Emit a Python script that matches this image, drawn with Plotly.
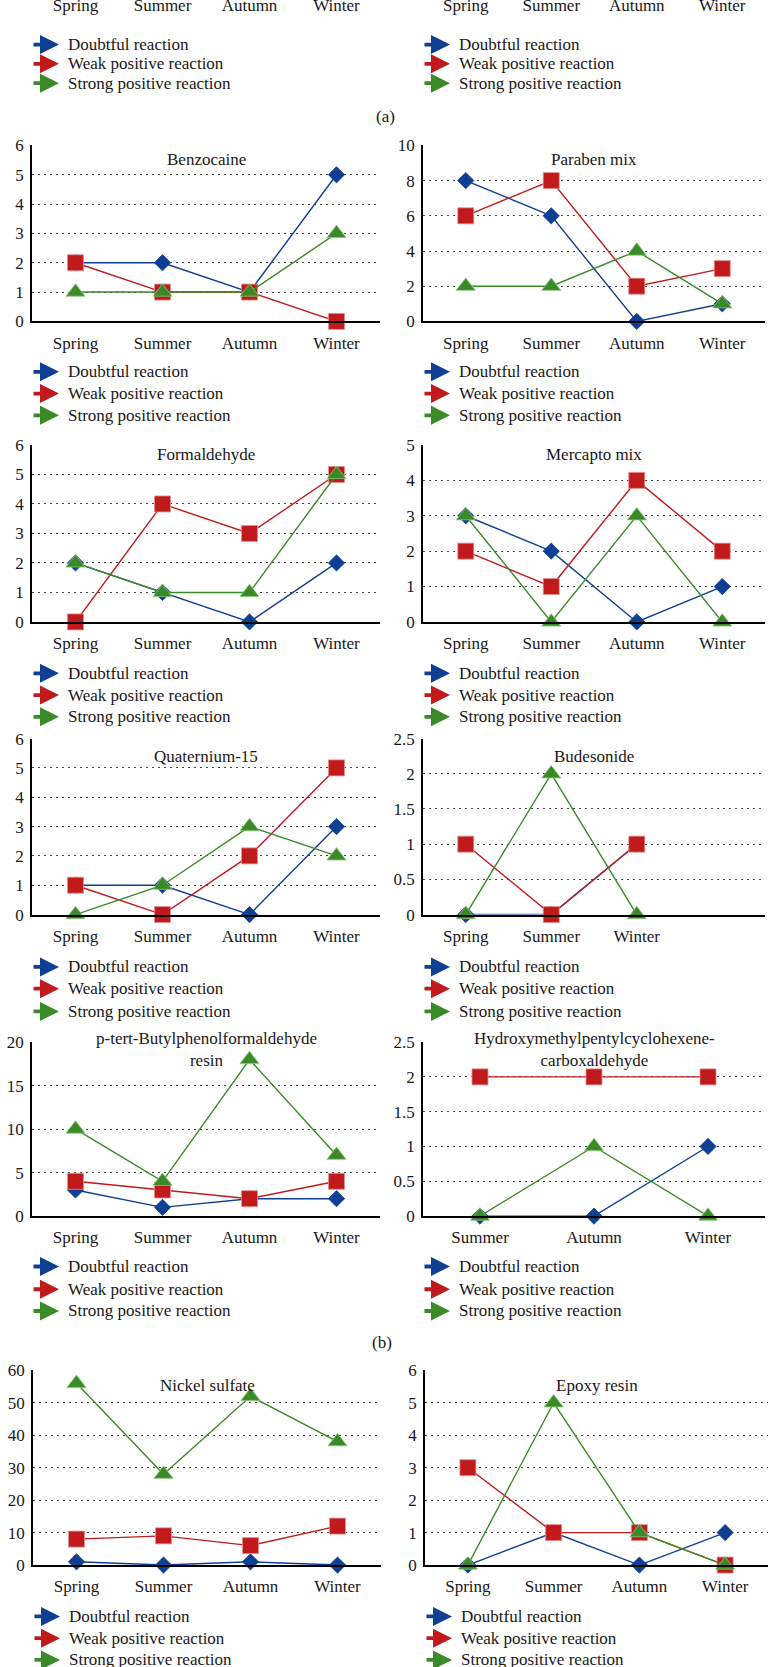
import plotly.graph_objects as go

W, H = 769, 1667

# ---------------- data ----------------
SEASONS = ["Spring", "Summer", "Autumn", "Winter"]
SEASONS_BUDESONIDE = ["Spring", "Summer", "Winter"]
SEASONS_HMPCC = ["Summer", "Autumn", "Winter"]
SERIES_NAMES = ["Doubtful reaction", "Weak positive reaction", "Strong positive reaction"]

TITLES = ["Benzocaine", "Paraben mix", "Formaldehyde", "Mercapto mix",
          "Quaternium-15", "Budesonide",
          "p-tert-Butylphenolformaldehyde<br>resin",
          "Hydroxymethylpentylcyclohexene-<br>carboxaldehyde",
          "Nickel sulfate", "Epoxy resin"]

benzocaine_doubtful = [2, 2, 1, 5]
benzocaine_weak = [2, 1, 1, 0]
benzocaine_strong = [1, 1, 1, 3]

paraben_doubtful = [8, 6, 0, 1]
paraben_weak = [6, 8, 2, 3]
paraben_strong = [2, 2, 4, 1]

formaldehyde_doubtful = [2, 1, 0, 2]
formaldehyde_weak = [0, 4, 3, 5]
formaldehyde_strong = [2, 1, 1, 5]

mercapto_doubtful = [3, 2, 0, 1]
mercapto_weak = [2, 1, 4, 2]
mercapto_strong = [3, 0, 3, 0]

quaternium_doubtful = [1, 1, 0, 3]
quaternium_weak = [1, 0, 2, 5]
quaternium_strong = [0, 1, 3, 2]

budesonide_doubtful = [0, 0, 1]
budesonide_weak = [1, 0, 1]
budesonide_strong = [0, 2, 0]

ptbp_doubtful = [3, 1, 2, 2]
ptbp_weak = [4, 3, 2, 4]
ptbp_strong = [10, 4, 18, 7]

hmpcc_doubtful = [0, 0, 1]
hmpcc_weak = [2, 2, 2]
hmpcc_strong = [0, 1, 0]

nickel_doubtful = [1, 0, 1, 0]
nickel_weak = [8, 9, 6, 12]
nickel_strong = [56, 28, 52, 38]

epoxy_doubtful = [0, 1, 0, 1]
epoxy_weak = [3, 1, 1, 0]
epoxy_strong = [0, 5, 1, 0]

Y_MAX = [6, 10, 6, 5, 6, 2.5, 20, 2.5, 60, 6]
Y_DTICK = [1, 2, 1, 1, 1, 0.5, 5, 0.5, 10, 1]

PANELS = [
    (SEASONS, benzocaine_doubtful, benzocaine_weak, benzocaine_strong),
    (SEASONS, paraben_doubtful, paraben_weak, paraben_strong),
    (SEASONS, formaldehyde_doubtful, formaldehyde_weak, formaldehyde_strong),
    (SEASONS, mercapto_doubtful, mercapto_weak, mercapto_strong),
    (SEASONS, quaternium_doubtful, quaternium_weak, quaternium_strong),
    (SEASONS_BUDESONIDE, budesonide_doubtful, budesonide_weak, budesonide_strong),
    (SEASONS, ptbp_doubtful, ptbp_weak, ptbp_strong),
    (SEASONS_HMPCC, hmpcc_doubtful, hmpcc_weak, hmpcc_strong),
    (SEASONS, nickel_doubtful, nickel_weak, nickel_strong),
    (SEASONS, epoxy_doubtful, epoxy_weak, epoxy_strong),
]
N_SLOTS = [4, 4, 4, 4, 4, 4, 4, 3, 4, 4]

# ---------------- styling / geometry (pixels) ----------------
FONT = "Liberation Serif, Times New Roman, DejaVu Serif, serif"
TXT = "#1a1718"
COLORS = ["#0f3f92", "#c01a1d", "#3a8b27"]
EDGE = ["#0f3f92", "#e58f8f", "#8cc57a"]
SYMBOLS = ["diamond", "square", "triangle-up"]
SIZES = [12.5, 16, 16.5]

ROW_TOP = [138, 441, 738, 1045, 1377]
ROW_BOT = [316, 620, 916, 1221, 1574]
COL_X = [[(32, 380), (423, 765)]] * 4 + [[(33, 381), (425, 768)]]
TITLE_Y = [152, 451, 756, 1052, 1392]
LEGEND_Y = [[367, 389, 411], [672, 694, 716], [969, 991, 1014],
            [1272, 1295, 1317], [1626, 1648, 1670]]
TOP_LEGEND_Y = [36, 55.5, 75]


def px(xp):
    return xp / W


def py(yp):
    return 1 - yp / H


fig = go.Figure()
annotations = []


def add_legend(x_left, ys):
    for k, yy in enumerate(ys):
        annotations.append(dict(
            x=px(x_left + 27), y=py(yy), xref="paper", yref="paper",
            ax=-27, ay=0, text="", showarrow=True, arrowhead=2,
            arrowsize=1, arrowwidth=3.8, arrowcolor=COLORS[k]))
        annotations.append(dict(
            x=px(x_left + 34), y=py(yy), xref="paper", yref="paper",
            xanchor="left", yanchor="middle", showarrow=False,
            text=SERIES_NAMES[k], font=dict(family=FONT, size=17, color=TXT)))


for i, (cats, d, w, s) in enumerate(PANELS):
    row, col = divmod(i, 2)
    n = i + 1
    xs = "" if n == 1 else str(n)
    x0, x1 = COL_X[row][col]
    for k, vals in enumerate([d, w, s]):
        fig.add_trace(go.Scatter(
            x=cats, y=vals, mode="lines+markers", name=SERIES_NAMES[k],
            xaxis="x" + xs, yaxis="y" + xs, showlegend=False, cliponaxis=False,
            line=dict(color=COLORS[k], width=1.4),
            marker=dict(symbol=SYMBOLS[k], size=SIZES[k], color=COLORS[k],
                        line=dict(color=EDGE[k], width=0.8))))
    fig.layout["xaxis" + xs] = dict(
        domain=[px(x0), px(x1)], anchor="y" + xs, type="category",
        categoryorder="array", categoryarray=cats,
        range=[-0.5, N_SLOTS[i] - 0.5], showline=True, linecolor="#000",
        linewidth=1.5, ticks="", showgrid=False, zeroline=False,
        tickfont=dict(family=FONT, size=17, color=TXT), ticklabelstandoff=5)
    fig.layout["yaxis" + xs] = dict(
        domain=[py(ROW_BOT[row]), py(ROW_TOP[row])], anchor="x" + xs,
        range=[0, Y_MAX[i]], dtick=Y_DTICK[i], tick0=0, showline=True,
        linecolor="#000", linewidth=1.5, ticks="", zeroline=False,
        showgrid=True, gridcolor="#444", gridwidth=1.3, griddash="1.5px,4.5px",
        tickfont=dict(family=FONT, size=17, color=TXT), ticklabelstandoff=3)
    annotations.append(dict(
        x=0.5, xref="x" + xs + " domain", y=py(TITLE_Y[row]), yref="paper",
        xanchor="center", yanchor="middle", showarrow=False, text=TITLES[i],
        font=dict(family=FONT, size=17, color=TXT)))
    add_legend(x0, LEGEND_Y[row])

# top, mostly cut-off row of panel (a): only the bottom of its season labels shows
for j, (x0, x1) in enumerate(COL_X[0]):
    n = 11 + j
    fig.add_trace(go.Scatter(x=[], y=[], xaxis="x%d" % n, yaxis="y%d" % n,
                             showlegend=False))
    fig.layout["xaxis%d" % n] = dict(
        domain=[px(x0), px(x1)], anchor="y%d" % n, range=[-0.5, 3.5],
        tickmode="array", tickvals=[0, 1, 2, 3], ticktext=SEASONS,
        showline=False, showgrid=False, zeroline=False, ticks="",
        tickfont=dict(family=FONT, size=17, color=TXT), ticklabelstandoff=-17)
    fig.layout["yaxis%d" % n] = dict(domain=[0.9995, 1], anchor="x%d" % n,
                                     visible=False)
    add_legend(x0, TOP_LEGEND_Y)

annotations.append(dict(x=px(385), y=py(108.5), xref="paper", yref="paper",
                        xanchor="center", yanchor="middle",
                        text="(a)", showarrow=False,
                        font=dict(family=FONT, size=17, color=TXT)))
annotations.append(dict(x=px(382), y=py(1349), xref="paper", yref="paper",
                        xanchor="center", yanchor="middle",
                        text="(b)", showarrow=False,
                        font=dict(family=FONT, size=17, color=TXT)))

fig.update_layout(
    width=W, height=H, margin=dict(l=0, r=0, t=0, b=0),
    paper_bgcolor="white", plot_bgcolor="white",
    annotations=annotations, showlegend=False,
    font=dict(family=FONT, size=16, color=TXT))

fig.write_html("out.html")
